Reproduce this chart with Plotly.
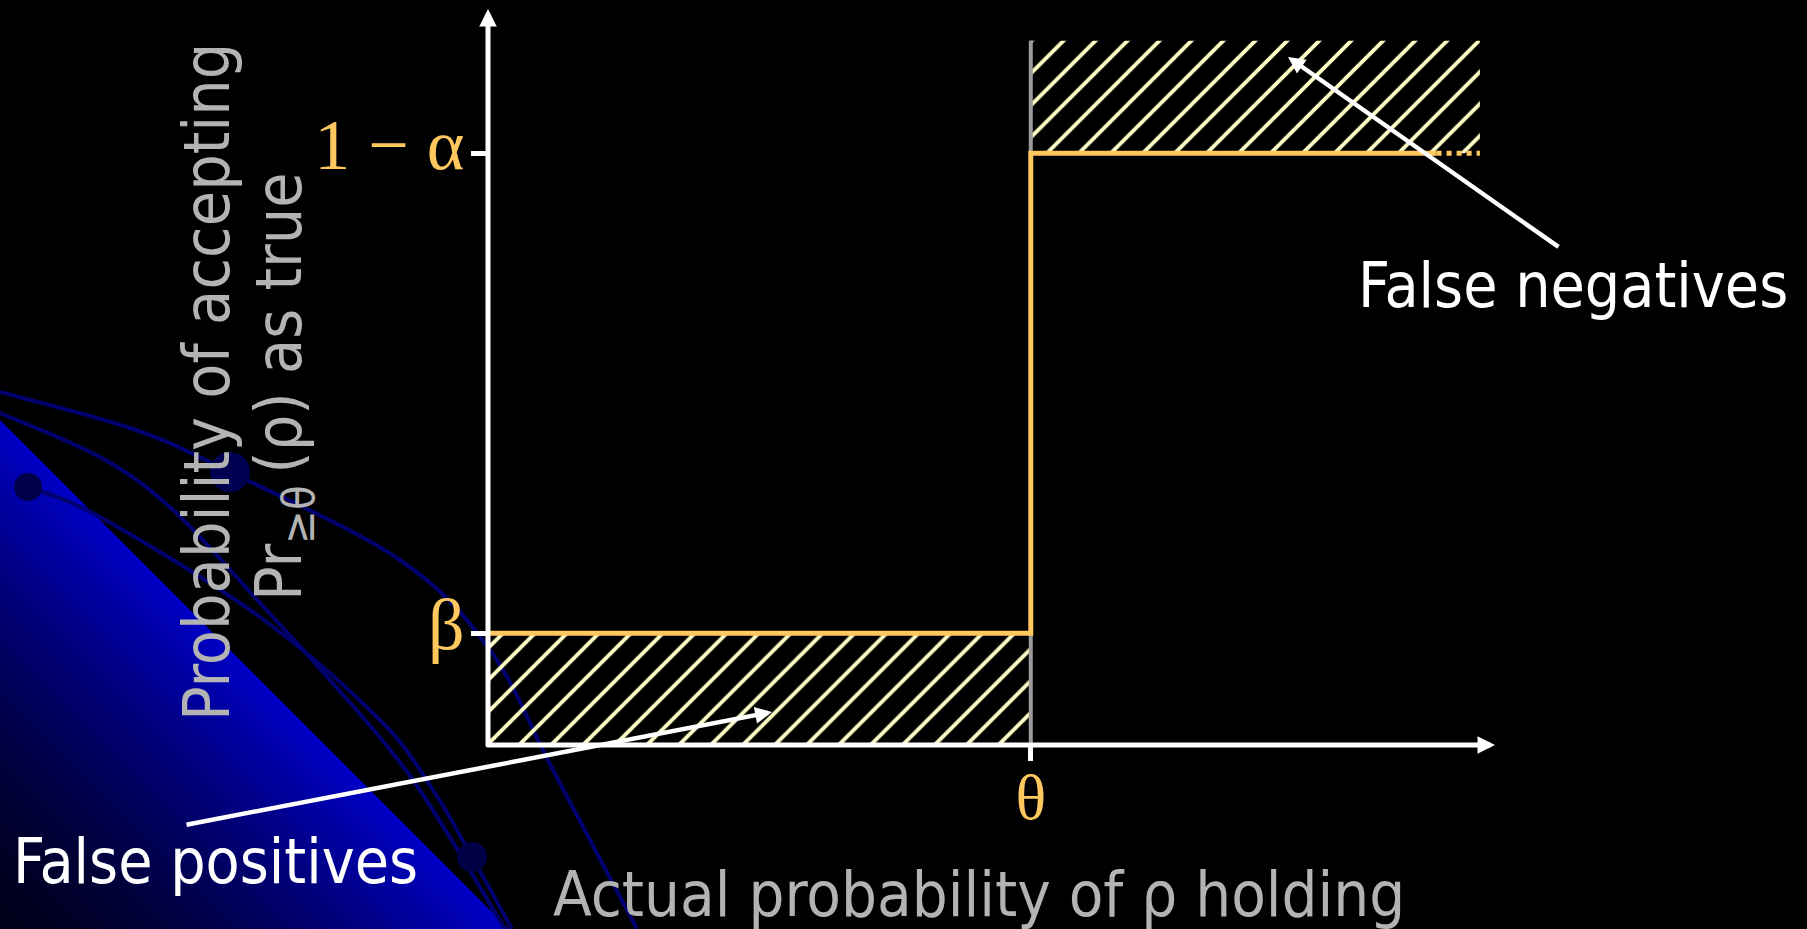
import plotly.graph_objects as go

W, H = 1807, 929

# ---- operating characteristic of the test (probability units) ----
RHO_THETA = 0.539          # threshold θ on the actual-probability axis
BETA = 0.152               # acceptance probability when ρ holds with prob < θ
ONE_MINUS_ALPHA = 0.804    # acceptance probability when ρ holds with prob ≥ θ
RHO_SOLID_END = 0.942      # where the drawn curve turns dotted
RHO_END = 0.985            # right end of the curve / hatched band
HATCH_TOP = 0.957          # top of the false-negative band

curve_rho = [0.0, RHO_THETA, RHO_THETA, RHO_SOLID_END]
curve_acc = [BETA, BETA, ONE_MINUS_ALPHA, ONE_MINUS_ALPHA]
tail_rho = [RHO_SOLID_END, RHO_END]
tail_acc = [ONE_MINUS_ALPHA, ONE_MINUS_ALPHA]

fp_rho = [0.0, RHO_THETA, RHO_THETA, 0.0]
fp_acc = [0.0, 0.0, BETA, BETA]
fn_rho = [RHO_THETA, RHO_END, RHO_END, RHO_THETA]
fn_acc = [ONE_MINUS_ALPHA, ONE_MINUS_ALPHA, HATCH_TOP, HATCH_TOP]

edge_rho = [RHO_THETA, RHO_THETA, None, RHO_THETA, RHO_THETA]
edge_acc = [0.0, BETA, None, ONE_MINUS_ALPHA, HATCH_TOP]

y_tickvals = [BETA, ONE_MINUS_ALPHA]
y_ticktext = ["β", "1 − α"]
x_tickvals = [RHO_THETA]
x_ticktext = ["θ"]

# ---- styling ----
ORANGE = "#FFC85F"
HATCH = "#FFFFC8"
GREY_TXT = "#B3B3B3"
SANS = "DejaVu Sans Condensed, DejaVu Sans, sans-serif"
SERIF = "Liberation Serif, Times New Roman, serif"

# plot area in pixels
PX_L, PX_R, PX_T, PX_B = 488, 1495, 9, 745


def fx(px):
    return px / W


def fy(py):
    return 1 - py / H


fig = go.Figure()

# hatched bands
for xs, ys in ((fp_rho, fp_acc), (fn_rho, fn_acc)):
    fig.add_trace(go.Scatter(
        x=xs, y=ys, fill="toself", mode="lines", line=dict(width=0),
        fillcolor="rgba(0,0,0,0)",
        fillpattern=dict(shape="/", size=22.6, solidity=0.17,
                         fgcolor=HATCH, fgopacity=1, bgcolor="rgba(0,0,0,0)",
                         fillmode="overlay"),
        hoverinfo="skip", showlegend=False))

# grey band edges at θ
fig.add_trace(go.Scatter(x=edge_rho, y=edge_acc, mode="lines",
                         line=dict(color="#9A9A9A", width=4),
                         hoverinfo="skip", showlegend=False))

# acceptance curve
fig.add_trace(go.Scatter(x=curve_rho, y=curve_acc, mode="lines",
                         line=dict(color=ORANGE, width=5, shape="linear"),
                         showlegend=False))
fig.add_trace(go.Scatter(x=tail_rho, y=tail_acc, mode="lines",
                         line=dict(color=ORANGE, width=5, dash="5px,5px"),
                         showlegend=False))

# ---- background decoration: blue wedge with gradient, arcs and beads ----
shapes = []
c_top, c_bot, n_strips = 420.0, float(H), 60
for k in range(n_strips):
    c1 = c_top + (c_bot - c_top) * k / n_strips
    c2 = c_top + (c_bot - c_top) * (k + 1) / n_strips + 0.8
    c2 = min(c2, c_bot)
    t = (k + 0.5) / n_strips
    b = int(round(28 + 170 * (1 - t) ** 1.5))
    pts = [(0, c1), (H - c1, H), (H - c2, H), (0, c2)]
    d = "M" + " L".join(f"{fx(x):.5f},{fy(y):.5f}" for x, y in pts) + " Z"
    shapes.append(dict(type="path", path=d, xref="paper", yref="paper",
                       fillcolor=f"rgb(0,0,{b})", line=dict(width=0),
                       layer="below"))


def smooth_path(pts):
    P = [(fx(x), fy(y)) for x, y in pts]
    d = f"M{P[0][0]:.5f},{P[0][1]:.5f}"
    for i in range(len(P) - 1):
        p0 = P[i - 1] if i > 0 else P[i]
        p1, p2 = P[i], P[i + 1]
        p3 = P[i + 2] if i + 2 < len(P) else P[i + 1]
        c1 = (p1[0] + (p2[0] - p0[0]) / 6, p1[1] + (p2[1] - p0[1]) / 6)
        c2 = (p2[0] - (p3[0] - p1[0]) / 6, p2[1] - (p3[1] - p1[1]) / 6)
        d += (f" C{c1[0]:.5f},{c1[1]:.5f} {c2[0]:.5f},{c2[1]:.5f}"
              f" {p2[0]:.5f},{p2[1]:.5f}")
    return d


arcs = [
    [(0, 392), (133, 429), (230, 472), (400, 560), (490, 650), (553, 770), (637, 929)],
    [(0, 413), (100, 457), (173, 510), (260, 603), (330, 680), (413, 780), (505, 929)],
    [(28, 487), (100, 517), (260, 617), (380, 720), (433, 790), (472, 857), (512, 929)],
]
for a in arcs:
    shapes.append(dict(type="path", path=smooth_path(a), xref="paper",
                       yref="paper", line=dict(color="#00006E", width=4),
                       layer="below"))

for cx, cy, r, col in [(28, 487, 14, "#00004A"), (230, 472, 20, "#000052"),
                       (472, 857, 15, "#000046")]:
    shapes.append(dict(type="circle", xref="paper", yref="paper",
                       x0=fx(cx - r), x1=fx(cx + r), y0=fy(cy + r), y1=fy(cy - r),
                       fillcolor=col, line=dict(width=0), layer="below"))

# ---- annotations ----
ann = []

# axes drawn as arrows
ann.append(dict(x=0, y=1, xref="x", yref="y", axref="pixel", ayref="pixel",
                ax=0, ay=(PX_B - PX_T) + 3, text="", showarrow=True,
                arrowhead=2, arrowsize=0.7, arrowwidth=5, arrowcolor="white",
                standoff=0))
ann.append(dict(x=1, y=0, xref="x", yref="y", axref="pixel", ayref="pixel",
                ax=-(PX_R - PX_L) - 3, ay=0, text="", showarrow=True,
                arrowhead=2, arrowsize=0.7, arrowwidth=5, arrowcolor="white",
                standoff=0))

# call-out arrows
for tip, tail in [((1288, 57), (1560, 248)), ((772, 712), (185, 825))]:
    ann.append(dict(x=fx(tip[0]), y=fy(tip[1]), xref="paper", yref="paper",
                    axref="pixel", ayref="pixel",
                    ax=tail[0] - tip[0], ay=tail[1] - tip[1], text="",
                    showarrow=True, arrowhead=2, arrowsize=0.75, arrowwidth=4.5,
                    arrowcolor="white", standoff=0))

ann.append(dict(x=fx(1356), y=fy(286), xref="paper", yref="paper",
                xanchor="left", yanchor="middle", showarrow=False,
                text="False negatives",
                font=dict(family=SANS, size=62, color="white")))
ann.append(dict(x=fx(11), y=fy(861), xref="paper", yref="paper",
                xanchor="left", yanchor="middle", showarrow=False,
                text="False positives",
                font=dict(family=SANS, size=62, color="white")))

# axis titles
ann.append(dict(x=fx(551), y=fy(894), xref="paper", yref="paper",
                xanchor="left", yanchor="middle", showarrow=False,
                text="Actual probability of ρ holding",
                font=dict(family=SANS, size=63, color=GREY_TXT)))
ann.append(dict(x=fx(207), y=fy(382), xref="paper", yref="paper",
                xanchor="center", yanchor="middle", showarrow=False,
                textangle=-90, text="Probability of accepting",
                font=dict(family=SANS, size=64, color=GREY_TXT)))
ann.append(dict(x=fx(283), y=fy(387), xref="paper", yref="paper",
                xanchor="center", yanchor="middle", showarrow=False,
                textangle=-90,
                text="Pr<sub>≥θ</sub>\u2009(ρ) as true",
                font=dict(family=SANS, size=64, color=GREY_TXT)))

fig.update_layout(
    width=W, height=H,
    margin=dict(l=0, r=0, t=0, b=0),
    paper_bgcolor="black", plot_bgcolor="rgba(0,0,0,0)",
    showlegend=False,
    shapes=shapes, annotations=ann,
    xaxis=dict(domain=[PX_L / W, PX_R / W], range=[0, 1],
               showgrid=False, zeroline=False, showline=False,
               tickmode="array", tickvals=x_tickvals, ticktext=x_ticktext,
               ticks="outside", ticklen=15, tickwidth=5, tickcolor="white",
               tickfont=dict(family=SERIF, size=64, color=ORANGE),
               ticklabelstandoff=-19, fixedrange=True),
    yaxis=dict(domain=[1 - PX_B / H, 1 - PX_T / H], range=[0, 1],
               showgrid=False, zeroline=False, showline=False,
               tickmode="array", tickvals=y_tickvals, ticktext=y_ticktext,
               ticks="outside", ticklen=16, tickwidth=5, tickcolor="white",
               tickfont=dict(family=SERIF, size=72, color=ORANGE),
               ticklabelstandoff=-8, ticklabelshift=-9, fixedrange=True),
)

fig.write_html("out.html", config={"displayModeBar": False})
